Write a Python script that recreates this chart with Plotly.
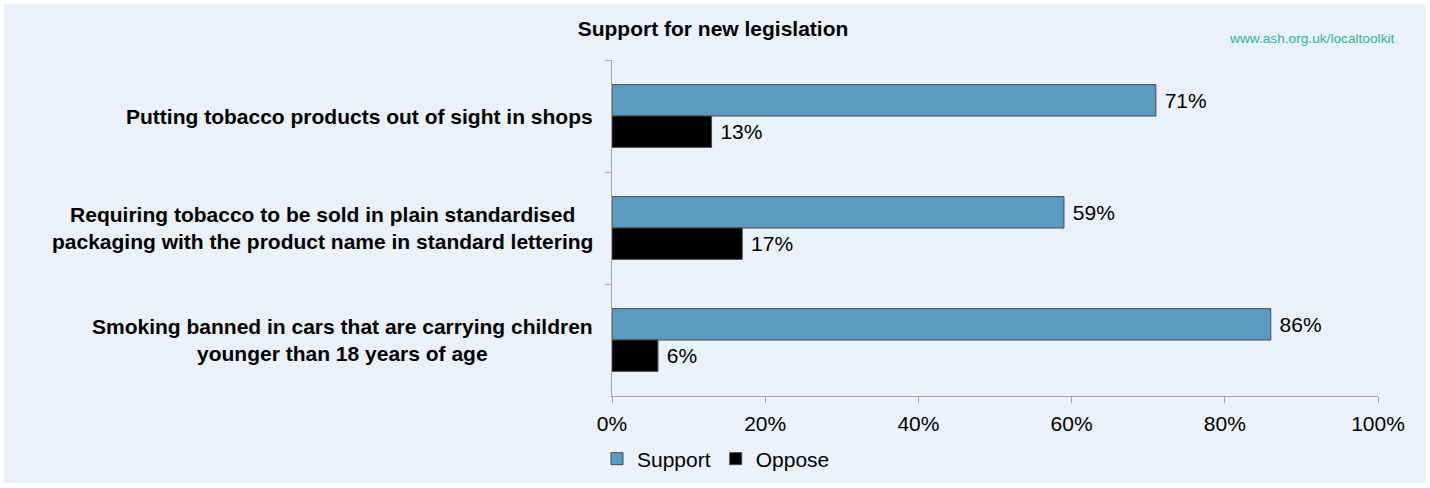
import plotly.graph_objects as go

categories = [
    "Putting tobacco products out of sight in shops",
    "Requiring tobacco to be sold in plain standardised<br>packaging with the product name in standard lettering",
    "Smoking banned in cars that are carrying children<br>younger than 18 years of age",
]
support = [71, 59, 86]
oppose = [13, 17, 6]
series_names = ["Support", "Oppose"]
x_ticks = [0, 20, 40, 60, 80, 100]

FONT = "Arial, Liberation Sans, sans-serif"
FS = 21
W, H = 1430, 488
ML, MR, MT, MB = 612, 52, 60, 92
PW, PH = W - ML - MR, H - MT - MB

fig = go.Figure()
fig.add_trace(go.Bar(
    name=series_names[0], y=categories, x=support, orientation="h",
    marker=dict(color="#5b9bc1", line=dict(color="#4a4a4a", width=1)),
    text=[f"\u00a0{v}%" for v in support], textposition="outside",
    textfont=dict(size=FS, color="#000000", family=FONT), cliponaxis=False,
))
fig.add_trace(go.Bar(
    name=series_names[1], y=categories, x=oppose, orientation="h",
    marker=dict(color="#000000", line=dict(color="#4a4a4a", width=1)),
    text=[f"\u00a0{v}%" for v in oppose], textposition="outside",
    textfont=dict(size=FS, color="#000000", family=FONT), cliponaxis=False,
))

# background panel with white frame
fig.add_shape(type="rect", xref="paper", yref="paper", layer="below",
              x0=(4 - ML) / PW, x1=(W - 4 - ML) / PW,
              y0=1 - (H - 5 - MT) / PH, y1=1 - (4 - MT) / PH,
              fillcolor="#eaf1f8", line=dict(width=0))

# category labels (centered multi-line)
for c in categories:
    fig.add_annotation(x=-17 / PW, xref="paper", y=c, yref="y", text=f"<b>{c}</b>",
                       showarrow=False, xanchor="right", yanchor="middle", align="center",
                       font=dict(size=FS, color="#000000", family=FONT))

fig.add_annotation(x=(1397 - ML) / PW, xref="paper", y=1 - (38 - MT) / PH, yref="paper",
                   text="www.ash.org.uk/localtoolkit", showarrow=False,
                   xanchor="right", yanchor="middle",
                   font=dict(size=13.7, color="#2bb5a0", family=FONT))

fig.update_layout(
    width=W, height=H,
    margin=dict(l=ML, r=MR, t=MT, b=MB, autoexpand=False),
    paper_bgcolor="#ffffff", plot_bgcolor="rgba(0,0,0,0)",
    barmode="group", bargap=0.44, bargroupgap=0,
    title=dict(text="<b>Support for new legislation</b>", x=713 / W, xanchor="center",
               y=1 - 29 / H, yanchor="middle", yref="container",
               font=dict(size=FS, color="#000000", family=FONT)),
    font=dict(family=FONT, color="#000000"),
    showlegend=True,
    legend=dict(orientation="h", x=(716 - ML) / PW, xanchor="center",
                y=(396 - 459) / PH, yanchor="middle",
                font=dict(size=FS, color="#000000", family=FONT),
                bgcolor="rgba(0,0,0,0)", itemwidth=30, tracegroupgap=0),
    xaxis=dict(range=[0, 100], tickvals=x_ticks, ticktext=[f"{t}%" for t in x_ticks],
               showgrid=False, zeroline=False, showline=True, linecolor="#a6a6a6",
               linewidth=1, ticks="outside", ticklen=6, tickcolor="#a6a6a6",
               ticklabelstandoff=3,
               tickfont=dict(size=FS, color="#000000", family=FONT)),
    yaxis=dict(autorange="reversed", showticklabels=False, showgrid=False,
               zeroline=False, showline=True, linecolor="#a6a6a6", linewidth=1,
               ticks="outside", ticklen=6, tickcolor="#a6a6a6", tickson="boundaries"),
)

fig.write_html("out.html")
